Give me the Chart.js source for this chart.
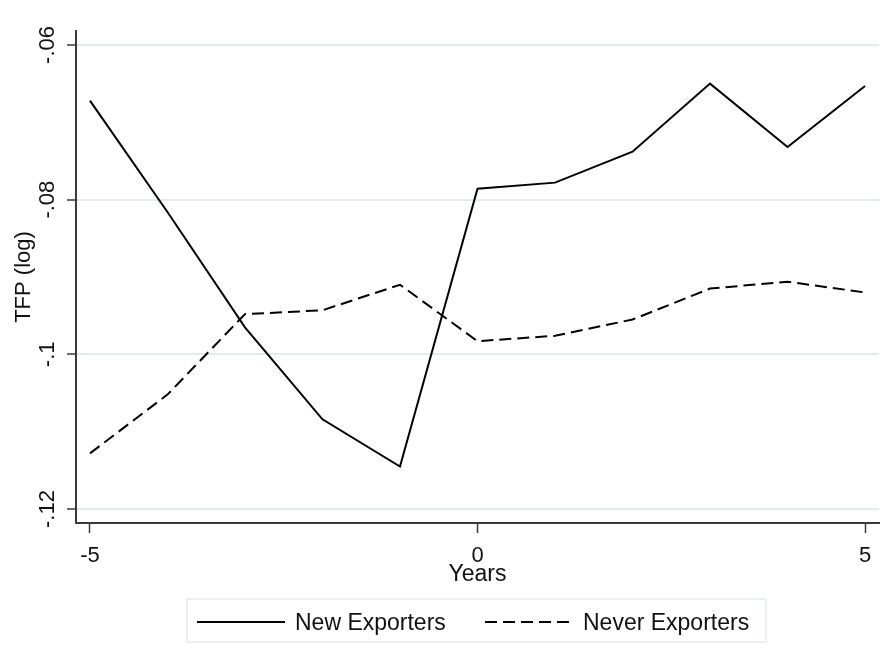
<!DOCTYPE html>
<html>
<head>
<meta charset="utf-8">
<script src="https://cdn.jsdelivr.net/npm/chart.js@4.4.1/dist/chart.umd.min.js"></script>
<style>
  body { margin: 0; background: #fff; }
  canvas { display: block; }
</style>
</head>
<body>
<canvas id="tfp" width="894" height="645"></canvas>
<script>
// data
const years = [-5, -4, -3, -2, -1, 0, 1, 2, 3, 4, 5];
const newExporters = [-0.0672, -0.0816, -0.0965, -0.1084, -0.1145, -0.0786, -0.0778, -0.0738, -0.0650, -0.0732, -0.0653];
const neverExporters = [-0.1128, -0.1052, -0.0948, -0.0943, -0.0910, -0.0983, -0.0976, -0.0955, -0.0915, -0.0906, -0.0920];
const seriesNames = ['New Exporters', 'Never Exporters'];
const xTicks = [-5, 0, 5];
const yTicks = [-0.12, -0.1, -0.08, -0.06];
const yTickLabels = ['-.12', '-.1', '-.08', '-.06'];

const FONT = '"Liberation Sans", Arial, sans-serif';
const AXIS = '#3a3a3a';
const GRID = '#e4ebeb';

Chart.defaults.font.family = FONT;
Chart.defaults.color = '#111';

function pts(vals) {
    return years.map((y, i) => ({ x: y, y: vals[i] }));
}

// legend drawn by hand, Stata style boxed legend
const stataLegend = {
    id: 'stataLegend',
    afterDraw(chart) {
        const ctx = chart.ctx;
        ctx.save();
        ctx.strokeStyle = GRID;
        ctx.lineWidth = 1.5;
        ctx.strokeRect(187, 599, 579, 43);
        const starts = [197, 485];
        chart.data.datasets.forEach((ds, i) => {
            const x0 = starts[i];
            ctx.strokeStyle = ds.borderColor;
            ctx.lineWidth = ds.borderWidth;
            ctx.setLineDash(ds.borderDash || []);
            ctx.beginPath();
            ctx.moveTo(x0, 622);
            ctx.lineTo(x0 + 88, 622);
            ctx.stroke();
            ctx.setLineDash([]);
            ctx.fillStyle = '#111';
            ctx.font = '23px ' + FONT;
            ctx.textBaseline = 'alphabetic';
            ctx.fillText(ds.label, x0 + 98, 630);
        });
        ctx.restore();
    }
};

new Chart(document.getElementById('tfp'), {
    type: 'line',
    data: {
        datasets: [{
            label: seriesNames[0],
            data: pts(newExporters),
            borderColor: '#000',
            borderWidth: 2,
            pointRadius: 0,
            tension: 0
        }, {
            label: seriesNames[1],
            data: pts(neverExporters),
            borderColor: '#000',
            borderWidth: 2,
            borderDash: [12, 6],
            pointRadius: 0,
            tension: 0
        }]
    },
    options: {
        responsive: false,
        animation: false,
        layout: { padding: { top: 31, right: 15, bottom: 57, left: 0 } },
        plugins: {
            legend: { display: false },
            tooltip: { enabled: false }
        },
        scales: {
            x: {
                type: 'linear',
                min: -5.18,
                max: 5.18,
                afterBuildTicks: (s) => { s.ticks = xTicks.map(v => ({ value: v })); },
                afterFit: (s) => { s.height = 65; },
                ticks: {
                    font: { size: 22 },
                    color: '#111',
                    padding: 10,
                    maxRotation: 0,
                    callback: (v) => String(v)
                },
                grid: {
                    drawOnChartArea: false,
                    tickLength: 10,
                    tickColor: AXIS,
                    tickWidth: 1.5
                },
                border: { color: AXIS, width: 2 },
                title: {
                    display: true,
                    text: 'Years',
                    font: { size: 23 },
                    color: '#111',
                    padding: { top: 0, bottom: 0 }
                }
            },
            y: {
                min: -0.1218,
                max: -0.0582,
                afterBuildTicks: (s) => { s.ticks = yTicks.map(v => ({ value: v })); },
                afterFit: (s) => { s.width = 76; },
                ticks: {
                    font: { size: 22 },
                    color: '#111',
                    padding: 0,
                    minRotation: 90,
                    maxRotation: 90,
                    crossAlign: 'center',
                    callback: (v) => yTickLabels[yTicks.indexOf(v)]
                },
                grid: {
                    color: GRID,
                    lineWidth: 2,
                    tickLength: 9,
                    tickColor: AXIS,
                    tickWidth: 1.5
                },
                border: { color: AXIS, width: 2 },
                title: {
                    display: true,
                    text: 'TFP (log)',
                    font: { size: 22 },
                    color: '#111',
                    padding: { top: 11, bottom: 0 }
                }
            }
        }
    },
    plugins: [stataLegend]
});
</script>
</body>
</html>
